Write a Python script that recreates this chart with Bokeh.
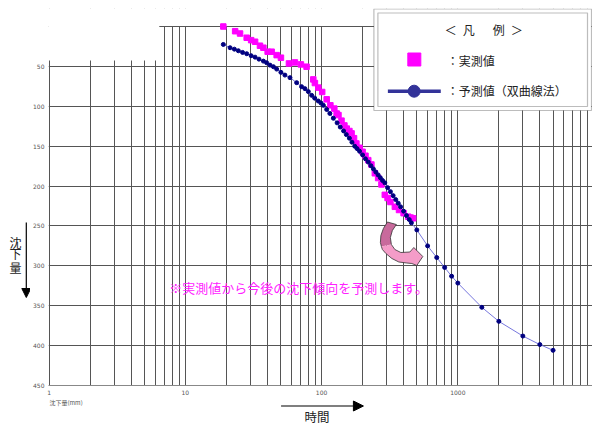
from bokeh.plotting import figure
from bokeh.models import (Range1d, FixedTicker, PrintfTickFormatter, BoxAnnotation,
                          Label, Arrow, NormalHead, ColumnDataSource)
from bokeh.layouts import row, column
from bokeh.embed import file_html
from bokeh.resources import INLINE
from bokeh.core.properties import value

# ---- data ----
t_meas = [19, 23.2, 25.2, 28.2, 30.4, 32.5, 35.3, 37.4, 40.2, 43, 46.8, 50.3, 57.6, 63.7,
          70.5, 77.6, 86.9, 89.3, 94.6, 101, 109, 116, 124, 129, 133, 140, 147, 153, 160,
          166, 173, 180, 190, 200, 210, 220, 232, 246, 260, 275, 291, 305, 320, 345, 370,
          400, 432, 450, 470]
s_meas = [0, 5.9, 8.8, 14.1, 17.1, 19.1, 24.1, 26.6, 31.6, 31.6, 35.9, 39.1, 46.3, 45,
          47.5, 50.4, 66.3, 70.9, 76.6, 82.1, 91.3, 98.8, 102.9, 109.1, 111, 118, 124, 128,
          131, 134, 140, 146.6, 152, 157, 162, 167.5, 173, 184, 190, 198, 211, 215, 220,
          226, 230, 234, 238.4, 239.5, 240.4]

t_pred = [19, 21.3, 22.9, 24.5, 26.3, 28.2, 30.4, 32.5, 34.7, 37.4, 39.5, 41.8, 44.3, 46.8,
          50.3, 53.8, 58.6, 65.6, 71.3, 75.5, 79.9, 84.5, 89, 94.6, 99, 103, 109, 115, 122,
          130, 137, 145, 152, 160, 167, 175, 182, 190, 200, 210, 220, 230, 240, 250, 260,
          270, 280, 291, 305, 320, 335, 350, 365, 380, 400, 420, 440, 456, 500, 600, 700,
          800, 900, 1000, 1500, 2000, 3000, 4000, 5000]
s_pred = [22.5, 26.6, 28.4, 30.4, 32.5, 34.1, 36.6, 38.4, 40.9, 43.4, 45.4, 48.4, 50.4, 53.4,
          57.5, 60.9, 64.1, 70.4, 75.4, 77.9, 81.6, 86.3, 89.8, 93.4, 96, 98.8, 104, 109, 115,
          120.8, 126, 130.9, 135.5, 140, 145, 150, 153, 156.4, 161, 165.9, 170, 174.5, 178.5,
          182.4, 186, 189.6, 193, 196, 202, 207, 212, 217, 221.5, 226, 231.5, 237, 242, 246,
          255, 275, 289.6, 302, 313, 321.6, 352, 369.6, 388, 398.7, 405.9]

x_ticks = [1, 10, 100, 1000, 10000]
y_ticks = [50, 100, 150, 200, 250, 300, 350, 400, 450]
y_grid = [0] + y_ticks
x_grid = [m * 10 ** k for k in range(0, 4) for m in range(1, 10)] + [10000]

y_title = ["沈", "下", "量"]

JP = "Noto Sans CJK JP"

# ---- layout helpers (page pixel -> data, for decorations only) ----
D = 136.5
X0 = 0.99
K = 359 / 450


def tx(px):
    return X0 * 10 ** ((px - 47) / D)


def sy(py):
    return (py - 26) / K


# ================= main chart =================
p = figure(width=562, height=398, x_axis_type="log",
           x_range=Range1d(X0, X0 * 10 ** (545 / D)),
           y_range=Range1d(450, -18 / K),
           output_backend="svg", toolbar_location=None,
           min_border_left=17, min_border_right=0, min_border_top=8, min_border_bottom=13)
p.outline_line_color = None
p.background_fill_color = "white"
p.border_fill_color = "white"

p.xaxis.ticker = FixedTicker(ticks=x_ticks, minor_ticks=[])
p.yaxis.ticker = FixedTicker(ticks=y_ticks, minor_ticks=[])
p.xgrid.ticker = FixedTicker(ticks=x_grid, minor_ticks=[])
p.ygrid.ticker = FixedTicker(ticks=y_grid, minor_ticks=[])
p.xaxis.formatter = PrintfTickFormatter(format="%d")
p.yaxis.formatter = PrintfTickFormatter(format="%d")
for ax in (p.xaxis, p.yaxis):
    ax.major_tick_line_color = None
    ax.minor_tick_line_color = None
    ax.major_tick_out = 0
    ax.major_tick_in = 0
    ax.minor_tick_out = 0
    ax.minor_tick_in = 0
    ax.major_label_text_font_size = "6px"
    ax.major_label_text_color = "#555555"
    ax.major_label_text_font = "DejaVu Sans"
p.yaxis.major_label_standoff = 4
p.xaxis.major_label_standoff = 4
p.yaxis.axis_line_color = None
p.xaxis.axis_line_color = "#888888"
p.xgrid.grid_line_color = "#555555"
p.ygrid.grid_line_color = "#555555"

# white covers (above the grid, below the data)
p.add_layout(BoxAnnotation(left=0.5, right=20000, top=-40, bottom=-0.7,
                           fill_color="white", fill_alpha=1, line_color=None, level="underlay"))
p.add_layout(BoxAnnotation(left=0.5, right=tx(158), top=-1, bottom=sy(60),
                           fill_color="white", fill_alpha=1, line_color=None, level="underlay"))

# legend frame (double border)
p.add_layout(BoxAnnotation(left=tx(373), right=tx(591), top=sy(8.5), bottom=sy(110),
                           fill_color="white", fill_alpha=1, line_color="#222222",
                           line_width=1.2, level="underlay"))
p.add_layout(BoxAnnotation(left=tx(377), right=tx(587), top=sy(12.5), bottom=sy(106),
                           fill_alpha=0, line_color="#222222", line_width=1.2, level="underlay"))

# ---- data series ----
src_m = ColumnDataSource(dict(t=t_meas, s=s_meas))
src_p = ColumnDataSource(dict(t=t_pred, s=s_pred))
p.scatter("t", "s", source=src_m, marker="square", size=5.5, color="#ff00ff")
p.line("t", "s", source=src_p, line_color="#7777dd", line_width=1)
p.scatter("t", "s", source=src_p, marker="circle", size=4, color="#000080")

# legend samples
p.scatter([tx(413.5)], [sy(59)], marker="square", size=13, color="#ff00ff")
p.line([tx(387), tx(440)], [sy(90.7), sy(90.7)], line_color="#333399", line_width=3.5)
p.scatter([tx(413.3)], [sy(90.7)], marker="circle", size=12, color="#333399")

for txt, px, py, fs, al in [("＜\u2002凡\u3000\u2002例\u2002＞", 483, 29, "12px", "center"),
                            ("：実測値", 446, 60, "12px", "left"),
                            ("：予測値（双曲線法）", 446, 90, "12px", "left")]:
    p.add_layout(Label(x=tx(px), y=sy(py), text=txt, text_font=JP, text_font_size=fs,
                       text_align=al, text_baseline="middle", text_color="#222222"))

# pink bent arrow
up_x = [386.5, 382.5, 380, 379.5, 380.5, 390.5, 389.5, 391.5, 395.5]
up_y = [221.5, 228, 235, 242, 246, 244, 237, 230, 224]
lo_x = [380.5, 381.5, 385, 391, 398, 406, 411, 416, 422, 413, 409, 400, 394, 390.5]
lo_y = [246, 249, 253, 258, 261.5, 262.5, 263, 265, 256, 247, 251.5, 252, 249, 244]
p.patch([tx(v) for v in up_x], [sy(v) for v in up_y], fill_color="#c86a9c", line_color=None)
p.patch([tx(v) for v in lo_x], [sy(v) for v in lo_y], fill_color="#f49cc8", line_color=None)
all_x = up_x[:5] + lo_x[1:] + up_x[5:]
all_y = up_y[:5] + lo_y[1:] + up_y[5:]
p.patch([tx(v) for v in all_x], [sy(v) for v in all_y], fill_alpha=0,
        line_color="#333333", line_width=0.8)

# annotation text
p.add_layout(Label(x=tx(168), y=sy(287), text="※実測値から今後の沈下傾向を予測します。",
                   text_font=JP, text_font_size="13px", text_color="#ff22ff",
                   text_baseline="middle", text_align="left"))

# ================= left strip: y title (frame aligned with main frame) =================
pl = figure(width=30, height=424, x_range=Range1d(0, 30), y_range=Range1d(385, 8),
            output_backend="svg", toolbar_location=None,
            x_axis_location=None, y_axis_location=None,
            min_border_left=0, min_border_right=0, min_border_top=8, min_border_bottom=39)
pl.outline_line_color = None
pl.xgrid.visible = False
pl.ygrid.visible = False
pl.text(x=[15, 15, 15], y=[241.7, 253.3, 267.2], text=y_title, text_font=value(JP),
        text_font_size=value("12px"), text_align="center", text_baseline="middle",
        text_color="#222222")
pl.add_layout(Arrow(end=NormalHead(size=9, fill_color="black", line_color="black"),
                    x_start=25.8, y_start=222, x_end=25.8, y_end=297,
                    line_color="black", line_width=1.2))

# ================= bottom strip: x title (frame aligned with main frame) =================
pb = figure(width=562, height=26, x_range=Range1d(47, 592), y_range=Range1d(424, 398),
            output_backend="svg", toolbar_location=None,
            x_axis_location=None, y_axis_location=None,
            min_border_left=17, min_border_right=0, min_border_top=0, min_border_bottom=0)
pb.outline_line_color = None
pb.xgrid.visible = False
pb.ygrid.visible = False
pb.text(x=[48], y=[402], text=["沈下量(mm)"], text_font=value(JP),
        text_font_size=value("6px"), text_align="left", text_baseline="middle",
        text_color="#555555")
pb.text(x=[316], y=[415.5], text=["時間"], text_font=value(JP),
        text_font_size=value("12.5px"), text_align="center", text_baseline="middle",
        text_color="#222222")
pb.add_layout(Arrow(end=NormalHead(size=10, fill_color="black", line_color="black"),
                    x_start=280, y_start=405.5, x_end=362.5, y_end=405.5,
                    line_color="black", line_width=1.2))

layout = row(pl, column(p, pb, spacing=0), spacing=0)
open("out.html", "w").write(file_html(layout, INLINE))
